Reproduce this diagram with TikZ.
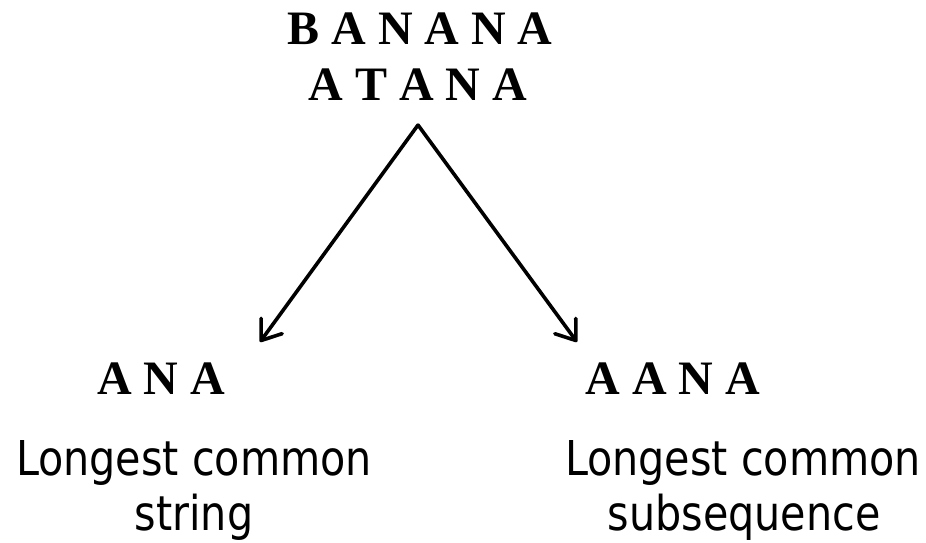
\documentclass[tikz,border=0pt]{standalone}
\usepackage{fontspec}
\setmainfont{Liberation Serif}
\newfontfamily\labelsans[FakeStretch=0.86]{DejaVu Sans}
\usetikzlibrary{arrows.meta}
\begin{document}
\begin{tikzpicture}[x=1pt,y=-1pt,
  seq/.style={anchor=base,inner sep=0pt,font=\fontsize{48}{55}\selectfont\bfseries},
  caption/.style={anchor=base,inner sep=0pt,font=\labelsans\fontsize{48}{55}\selectfont},
  branch/.style={line width=3.6pt,line cap=round,-{Straight Barb[length=18pt,width=26pt,line width=3.6pt,round]}}]
  \useasboundingbox (0,0) rectangle (926,543);

  % the two input strings
  \node[seq] (s1) at (420,45) {B A N A N A};
  \node[seq] (s2) at (418,100) {A T A N A};

  % the two results
  \node[seq] (r1) at (161,394) {A N A};
  \node[seq] (r2) at (673,394) {A A N A};

  % captions
  \node[caption] (c1a) at (194,475) {Longest common};
  \node[caption] (c1b) at (194,530) {string};
  \node[caption] (c2a) at (743,475) {Longest common};
  \node[caption] (c2b) at (744,530) {subsequence};

  % branching arrows
  \coordinate (apex) at (418,125);
  \coordinate (tipL) at (260,342);
  \coordinate (tipR) at (577,342);
  \draw[branch] (apex) -- (tipL);
  \draw[branch] (apex) -- (tipR);
\end{tikzpicture}
\end{document}
